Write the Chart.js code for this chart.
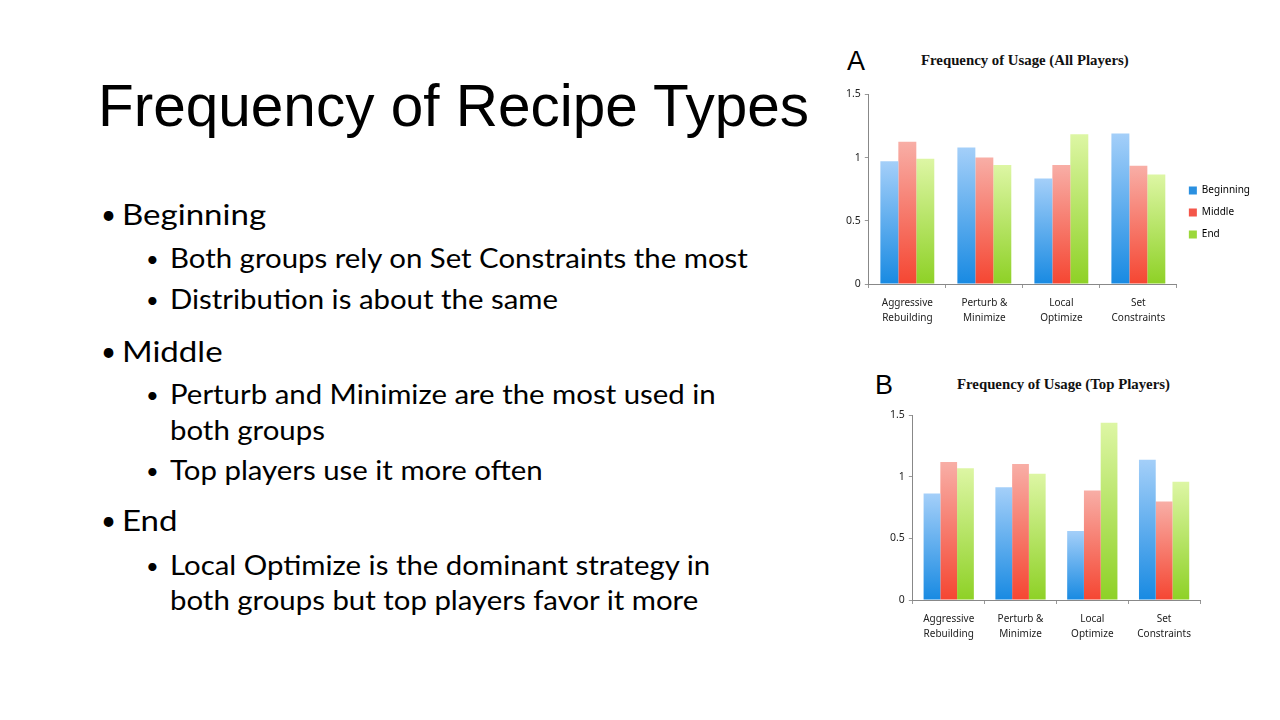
<!DOCTYPE html>
<html>
<head>
<meta charset="utf-8">
<script src="https://cdn.jsdelivr.net/npm/chart.js@4.4.1/dist/chart.umd.min.js"></script>
<style>
  body { margin: 0; width: 1280px; height: 720px; background: #fff; position: relative; overflow: hidden; }
  .title { position: absolute; left: 98px; top: 72px; font-family: "Liberation Sans", Arial, sans-serif; font-size: 58.5px; color: #000; white-space: nowrap; }
  .txt { position: absolute; font-family: Lato, "Noto Sans", sans-serif; color: #000; white-space: nowrap; transform-origin: left top; }
  .l1 { font-size: 28px; left: 122px; transform: scaleX(1.18); }
  .l2 { font-size: 26px; left: 170px; transform: scaleX(1.13); }
  .dot { position: absolute; font-family: Lato, sans-serif; color: #000; }
  .d1 { font-size: 26px; left: 101px; }
  .d2 { font-size: 22px; left: 146px; }
  .letter { position: absolute; font-family: "Liberation Sans", Arial, sans-serif; font-size: 27px; color: #000; }
  .ctitle { position: absolute; font-family: "Liberation Serif", "Times New Roman", serif; font-weight: bold; font-size: 14.8px; color: #111; white-space: nowrap; }
  .box { position: absolute; }
</style>
</head>
<body>
<div class="title">Frequency of Recipe Types</div>

<div class="dot d1" style="top:198px">•</div><div class="txt l1" style="top:197px">Beginning</div>
<div class="dot d2" style="top:245px">•</div><div class="txt l2" style="top:242px">Both groups rely on Set Constraints the most</div>
<div class="dot d2" style="top:286px">•</div><div class="txt l2" style="top:283px">Distribution is about the same</div>
<div class="dot d1" style="top:335px">•</div><div class="txt l1" style="top:334px">Middle</div>
<div class="dot d2" style="top:381px">•</div><div class="txt l2" style="top:378px">Perturb and Minimize are the most used in</div>
<div class="txt l2" style="top:414px">both groups</div>
<div class="dot d2" style="top:457px">•</div><div class="txt l2" style="top:454px">Top players use it more often</div>
<div class="dot d1" style="top:504px">•</div><div class="txt l1" style="top:503px">End</div>
<div class="dot d2" style="top:552px">•</div><div class="txt l2" style="top:549px">Local Optimize is the dominant strategy in</div>
<div class="txt l2" style="top:584px">both groups but top players favor it more</div>

<div class="letter" style="left:847px; top:46px">A</div>
<div class="ctitle" style="left:921px; top:52px">Frequency of Usage (All Players)</div>
<div class="box" style="left:840px; top:84px; width:420px; height:255px"><canvas id="chartA"></canvas></div>

<div class="letter" style="left:875px; top:370px">B</div>
<div class="ctitle" style="left:957px; top:376px">Frequency of Usage (Top Players)</div>
<div class="box" style="left:870px; top:405px; width:340px; height:250px"><canvas id="chartB"></canvas></div>

<script>
const categories = [['Aggressive', 'Rebuilding'], ['Perturb &', 'Minimize'], ['Local', 'Optimize'], ['Set', 'Constraints']];
const seriesNames = ['Beginning', 'Middle', 'End'];
const allBeginning = [0.97, 1.08, 0.835, 1.19];
const allMiddle = [1.125, 1.0, 0.94, 0.935];
const allEnd = [0.99, 0.94, 1.185, 0.865];
const topBeginning = [0.865, 0.915, 0.56, 1.14];
const topMiddle = [1.12, 1.105, 0.89, 0.80];
const topEnd = [1.07, 1.025, 1.44, 0.96];
const yTicks = [0, 0.5, 1, 1.5];

// top / bottom colours of the gradient for each series
const shades = [
  ['#a4cff9', '#188ae2'], // blue
  ['#f8aea6', '#f54632'], // red
  ['#ddf6a4', '#8ed126']  // green
];
const legendColors = ['#2a90e0', '#f4564a', '#9bd83a'];

function barFill(idx) {
  return function(ctx) {
    const chart = ctx.chart;
    if (!chart.chartArea || ctx.type !== 'data') return legendColors[idx];
    const y = chart.scales.y;
    const top = y.getPixelForValue(ctx.raw);
    const base = y.getPixelForValue(0);
    const g = chart.ctx.createLinearGradient(0, top, 0, base);
    g.addColorStop(0, shades[idx][0]);
    g.addColorStop(1, shades[idx][1]);
    return g;
  };
}

function makeChart(id, values, showLegend, pad) {
  new Chart(document.getElementById(id), {
    type: 'bar',
    data: {
      labels: categories,
      datasets: values.map((v, i) => ({
        label: seriesNames[i],
        data: v,
        backgroundColor: barFill(i),
        borderWidth: 0,
        categoryPercentage: 0.7,
        barPercentage: 1.0
      }))
    },
    options: {
      responsive: true,
      maintainAspectRatio: false,
      animation: false,
      layout: { padding: pad },
      plugins: {
        title: { display: false },
        tooltip: { enabled: false },
        legend: {
          display: showLegend,
          position: 'right',
          labels: {
            generateLabels: chart => seriesNames.map((n, i) => ({
              text: n, fillStyle: legendColors[i], strokeStyle: legendColors[i], lineWidth: 0, datasetIndex: i
            })),
            boxWidth: 8, boxHeight: 8, padding: 12,
            color: '#333',
            font: { family: 'Noto Sans', size: 10 }
          }
        }
      },
      scales: {
        x: {
          grid: { display: true, drawOnChartArea: false, offset: true, color: '#999', tickLength: 4 },
          border: { color: '#888', width: 1 },
          ticks: { color: '#222', font: { family: 'Noto Sans', size: 10, lineHeight: 1.45 }, padding: 8, maxRotation: 0 }
        },
        y: {
          min: 0, max: 1.5,
          afterBuildTicks: axis => { axis.ticks = yTicks.map(v => ({ value: v })); },
          grid: { display: true, drawOnChartArea: false, color: '#999', tickLength: 4 },
          border: { color: '#888', width: 1 },
          ticks: { color: '#222', font: { family: 'Noto Sans', size: 10.5 }, padding: 4,
            callback: v => String(v) }
        }
      }
    }
  });
}

makeChart('chartA', [allBeginning, allMiddle, allEnd], true, { left: 2, right: 0, top: 8, bottom: 6 });
makeChart('chartB', [topBeginning, topMiddle, topEnd], false, { left: 16, right: 10, top: 10, bottom: 6 });
</script>
</body>
</html>
